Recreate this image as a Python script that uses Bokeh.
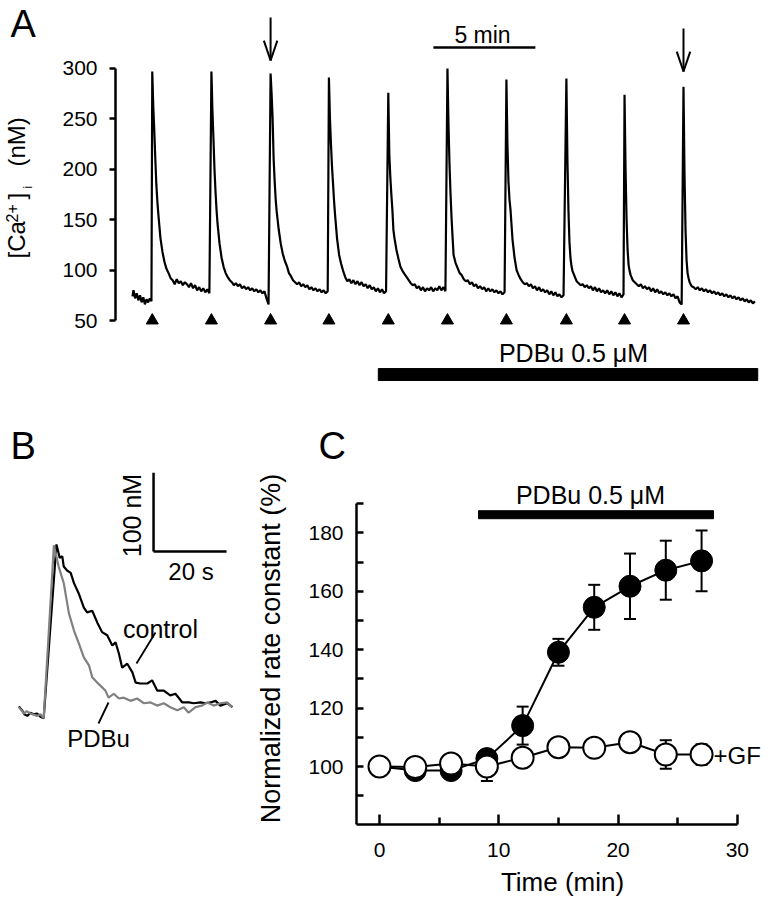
import math
from bokeh.plotting import figure
from bokeh.layouts import column, row
from bokeh.models import (Range1d, FixedTicker, Label, Whisker, TeeHead,
                          ColumnDataSource)
from bokeh.embed import file_html
from bokeh.resources import INLINE

FONT = "Liberation Sans"

# ---------------- Panel A data (time in min, [Ca2+]i in nM) ----------------
peak_t = [0.92, 3.82, 6.72, 9.58, 12.49, 15.39, 18.28, 21.22, 24.07, 26.96]
offsets = [0, 0.05, 0.1, 0.15, 0.2, 0.25, 0.3, 0.4, 0.5, 0.6, 0.7, 0.8, 0.9, 1.0,
           1.1, 1.2, 1.3, 1.4, 1.5, 1.6, 1.7, 1.8, 1.9, 2.0, 2.1, 2.2, 2.3, 2.4,
           2.5, 2.6, 2.7, 2.8]
pre_t = [-0.05, 0.0, 0.08, 0.16, 0.24, 0.32, 0.4, 0.48, 0.56, 0.64, 0.72, 0.8, 0.88]
pre_v = [74, 80, 72, 77, 70, 75, 68, 73, 66, 71, 68, 72, 69]
cyc1 = [297, 262, 238, 210, 185, 168, 155, 132, 118, 108, 101, 97, 92, 90, 86, 91,
        87, 89, 85, 88, 86, 83, 87, 82, 85, 80, 83, 79, 82, 78, 81, 77]
cyc2 = [297, 258, 230, 200, 178, 160, 146, 126, 112, 103, 97, 93, 90, 88, 85, 87,
        84, 86, 82, 84, 81, 83, 80, 82, 79, 81, 78, 80, 77, 79, 72, 66]
cyc3 = [295, 275, 250, 210, 188, 170, 158, 140, 126, 116, 109, 104, 97, 94, 90, 88,
        86, 88, 84, 86, 83, 85, 81, 83, 80, 82, 79, 81, 78, 80, 77, 79]
cyc4 = [291, 250, 225, 203, 186, 169, 155, 131, 115, 106, 99, 93, 89, 91, 87, 90,
        86, 89, 85, 88, 84, 86, 82, 85, 81, 83, 79, 82, 78, 81, 77, 79]
cyc5 = [276, 215, 192, 175, 160, 140, 132, 120, 111, 103, 99, 96, 93, 90, 87, 85,
        86, 82, 84, 80, 83, 79, 82, 80, 83, 79, 82, 80, 84, 80, 83, 79]
cyc6 = [300, 245, 205, 176, 152, 133, 115, 107, 102, 97, 95, 91, 89, 90, 86, 88,
        84, 86, 82, 84, 81, 83, 79, 82, 79, 81, 78, 80, 77, 79, 76, 78]
cyc7 = [289, 225, 188, 170, 160, 145, 130, 112, 100, 95, 91, 88, 86, 87, 84, 86,
        82, 84, 80, 83, 79, 81, 78, 80, 76, 79, 75, 78, 74, 76, 73, 75]
cyc8 = [290, 210, 160, 128, 112, 104, 99, 94, 89, 87, 85, 86, 83, 85, 82, 84,
        80, 83, 79, 82, 78, 80, 77, 80, 76, 79, 75, 78, 74, 77, 73, 76]
cyc9 = [274, 200, 150, 120, 105, 99, 95, 90, 88, 86, 84, 86, 82, 84, 81, 83,
        79, 82, 78, 81, 77, 79, 76, 78, 75, 77, 74, 76, 72, 74, 68, 66]
cyc10 = [282, 195, 140, 110, 97, 92, 88, 84, 83, 81, 83, 80, 82, 79, 81, 78,
         80, 77, 79, 76, 78, 75, 77, 74, 76, 73, 75, 72, 74, 71, 73, 70]
tail_off = [2.9, 3.0, 3.1, 3.2, 3.3, 3.4, 3.5]
tail_v = [72, 69, 71, 68, 70, 67, 69]
cycles = [cyc1, cyc2, cyc3, cyc4, cyc5, cyc6, cyc7, cyc8, cyc9, cyc10]

stim_t = peak_t
stim_level = 50
arrow_t = [6.72, 26.96]
arrow_top = [350.6, 339.7]
arrow_tip = [307.9, 297.0]
scale_start, scale_len, scale_y = 14.7, 5.0, 320.8
pdbuA_start, pdbuA_end, pdbuA_y = 12.0, 30.6, -3.6
yticksA = [50, 100, 150, 200, 250, 300]

# ---------------- Panel B data (time in s, [Ca2+]i in nM) ----------------
ctrl_t = [0.1, 1.0, 1.6, 2.4, 3.3, 4.1, 5.1, 6.0, 6.9, 10.4, 11.3, 12.0, 12.4, 13.3,
          14.3, 15.2, 16.5, 17.9, 18.8, 20.2, 21.6, 22.9, 24.3, 25.7, 26.6, 27.5,
          28.4, 29.8, 31.2, 32.1, 33.4, 35.3, 36.6, 38.0, 39.8, 41.6, 43.0, 44.9,
          46.7, 48.0, 49.9, 51.2, 52.6, 54.0, 55.3, 57.2, 58.6]
ctrl_c = [84, 79, 74, 72, 76, 74, 75, 71, 69, 289, 272, 274, 261, 256, 253, 240,
          227, 209, 203, 205, 190, 178, 174, 161, 165, 151, 133, 138, 127, 114,
          113, 113, 117, 104, 104, 98, 100, 89, 89, 88, 89, 88, 89, 91, 85, 88, 83]
pdbu_t = [0.1, 1.5, 2.2, 3.3, 5.1, 6.0, 6.9, 9.7, 11.0, 12.4, 13.8, 15.2, 16.5,
          17.9, 19.3, 20.2, 21.6, 22.5, 23.8, 24.7, 26.1, 27.5, 28.8, 30.7, 32.5,
          34.3, 36.2, 38.0, 39.8, 41.6, 43.5, 45.3, 46.6, 48.5, 50.3, 51.7, 53.5,
          55.3, 57.2, 58.5]
pdbu_c = [83, 75, 78, 75, 72, 74, 69, 288, 261, 240, 202, 180, 164, 146, 136, 121,
          114, 110, 104, 95, 100, 94, 95, 91, 94, 88, 89, 85, 88, 83, 79, 83, 76,
          83, 85, 89, 85, 88, 89, 83]
barB_t, barB_c = 37.0, 280.0
barB_dt, barB_dc = 20.0, 100.0

# ---------------- Panel C data ----------------
time_min = [0, 3, 6, 9, 12, 15, 18, 21, 24, 27]
pdbu_mean = [100, 98.6, 98.6, 102.7, 114.0, 139.1, 154.5, 161.7, 167.2, 170.4]
pdbu_sem = [0, 1.0, 1.0, 2.0, 6.5, 4.6, 7.7, 11.2, 10.1, 10.4]
gf_mean = [100, 99.8, 101.0, 100.0, 103.0, 106.6, 106.4, 108.3, 104.1, 104.1]
gf_sem = [0, 1.0, 1.0, 5.0, 1.5, 1.5, 1.5, 1.5, 4.9, 3.5]
pdbuC_start, pdbuC_end, pdbuC_y = 8.3, 28.0, 186.2
yticksC = [100, 120, 140, 160, 180]
yminorC = [90, 110, 130, 150, 170, 190]
xticksC = [0, 10, 20, 30]
xminorC = [5, 15, 25]

ROT = math.pi / 2


def base_fig(w, h, xr, yr, left, right, top, bottom, **kw):
    p = figure(width=w, height=h, x_range=Range1d(*xr), y_range=Range1d(*yr),
               output_backend="svg", toolbar_location=None,
               min_border_left=left, min_border_right=right,
               min_border_top=top, min_border_bottom=bottom, **kw)
    p.outline_line_color = None
    p.grid.visible = False
    p.background_fill_color = "white"
    p.border_fill_color = "white"
    return p


def add_px(p, x0, x1, ytop, ybot):
    # pixel-like helper ranges (page coordinates) for text placement
    p.extra_x_ranges = {"px": Range1d(x0, x1)}
    p.extra_y_ranges = {"px": Range1d(ybot, ytop)}


def lab(p, x, y, text, size, align="left", angle=0.0):
    # (x, y) is the visual centre line of the text
    p.add_layout(Label(x=x, y=y, text=text, text_font=FONT,
                       text_font_size=f"{size}px", text_align=align,
                       text_baseline="alphabetic", angle=angle,
                       text_color="black", x_range_name="px",
                       y_range_name="px"))


def strip(w, h, x0, y0, top=0, bottom=0):
    p = base_fig(w, h, (x0, x0 + w), (y0 + h - bottom, y0 + top), 0, 0, top,
                 bottom, x_axis_type=None, y_axis_type=None)
    add_px(p, x0, x0 + w, y0 + top, y0 + h - bottom)
    return p


def style_axis(ax):
    ax.axis_line_color = "black"
    ax.major_tick_line_color = "black"
    ax.minor_tick_line_color = "black"
    ax.axis_line_width = 2.5
    ax.major_tick_line_width = 2.5
    ax.minor_tick_line_width = 2.5
    ax.major_label_text_font = FONT
    ax.major_label_text_font_size = "21px"
    ax.major_label_text_color = "black"


# ======================= Row 1: panel A =======================
stripA = strip(55, 400, 0, 0, top=0, bottom=2)
lab(stripA, 10, 23, "A", 38)
lab(stripA, 15.5, 258, "[Ca", 24, angle=ROT)
lab(stripA, 11.5, 222, "2+", 16, angle=ROT)
lab(stripA, 15.5, 199, "]", 24, angle=ROT)
lab(stripA, 27, 188, "i", 12, angle=ROT)
lab(stripA, 15.5, 166, "(nM)", 24, angle=ROT)

pA = base_fig(715, 400, (-0.882, 31.127), (-27.38, 367.46), 60, 2, 0, 2,
              x_axis_type=None)
add_px(pA, 115, 768, 0, 398)
ya = pA.yaxis[0]
style_axis(ya)
ya.ticker = FixedTicker(ticks=yticksA, minor_ticks=[])
ya.bounds = (50, 300)
ya.major_tick_out = 6
ya.major_tick_in = 0
ya.minor_tick_out = 0
ya.minor_tick_in = 0
ya.major_label_standoff = 12

trace_t = list(pre_t)
trace_v = list(pre_v)
for pt, vals in zip(peak_t, cycles):
    trace_t += [pt + o for o in offsets]
    trace_v += vals
trace_t += [peak_t[-1] + o for o in tail_off]
trace_v += tail_v

pA.line(trace_t, trace_v, line_color="black", line_width=2.2)
pA.scatter(stim_t, [stim_level] * len(stim_t), marker="triangle", size=12,
           fill_color="black", line_color="black")
# arrows: shaft plus open V head (head half-width 0.33 min, length 19.8 nM)
head_w, head_l = 0.33, 19.8
pA.segment(x0=arrow_t, y0=arrow_top, x1=arrow_t, y1=arrow_tip,
           line_color="black", line_width=2)
pA.segment(x0=[t - head_w for t in arrow_t], y0=[v + head_l for v in arrow_tip],
           x1=arrow_t, y1=arrow_tip, line_color="black", line_width=2)
pA.segment(x0=[t + head_w for t in arrow_t], y0=[v + head_l for v in arrow_tip],
           x1=arrow_t, y1=arrow_tip, line_color="black", line_width=2)
pA.segment(x0=[scale_start], y0=[scale_y], x1=[scale_start + scale_len],
           y1=[scale_y], line_color="black", line_width=2.5)
pA.hbar(y=[pdbuA_y], left=[pdbuA_start], right=[pdbuA_end], height=11.9,
        fill_color="black", line_color="black")
lab(pA, 482, 34, "5 min", 23, align="center")
lab(pA, 573, 352, "PDBu 0.5 \u03bcM", 25, align="center")

# ======================= Row 2: panel letters B, C =======================
stripBC = strip(770, 70, 0, 400)
lab(stripBC, 10, 445, "B", 38)
lab(stripBC, 318, 445, "C", 38)

# ======================= Row 3: panels B and C =======================
pB = base_fig(250, 429, (-4.93, 63.56), (-65.5, 380.06), 0, 0, 2, 75,
              x_axis_type=None, y_axis_type=None)
add_px(pB, 0, 250, 472, 824)
pB.line(ctrl_t, ctrl_c, line_color="black", line_width=2.2)
pB.line(pdbu_t, pdbu_c, line_color="#808080", line_width=2.2)
pB.segment(x0=[barB_t, barB_t], y0=[barB_c, barB_c],
           x1=[barB_t, barB_t + barB_dt], y1=[barB_c + barB_dc, barB_c],
           line_color="black", line_width=2.5)
pB.segment(x0=[155, 108], y0=[632, 702], x1=[136, 98], y1=[663, 723],
           line_color="black", line_width=1.8, x_range_name="px",
           y_range_name="px")
lab(pB, 131.5, 515, "100 nM", 25, align="center", angle=ROT)
lab(pB, 190.5, 571, "20 s", 24, align="center")
lab(pB, 160, 628, "control", 25, align="center")
lab(pB, 98, 737.5, "PDBu", 24, align="center")

pC = base_fig(520, 429, (-1.928, 32.61), (80.144, 200.65), 106, 2, 2, 75)
add_px(pC, 356, 768, 472, 824)
yc = pC.yaxis[0]
xc = pC.xaxis[0]
for ax in (yc, xc):
    style_axis(ax)
    ax.major_tick_out = 0
    ax.minor_tick_out = 0
    ax.axis_label_text_font = FONT
    ax.axis_label_text_font_style = "normal"
    ax.axis_label_text_color = "black"
yc.ticker = FixedTicker(ticks=yticksC, minor_ticks=yminorC)
yc.bounds = (80.144, 190)
xc.ticker = FixedTicker(ticks=xticksC, minor_ticks=xminorC)
xc.bounds = (-1.928, 30)
yc.major_tick_in = 7
yc.minor_tick_in = 7
yc.major_label_standoff = 13
yc.axis_label = "Normalized rate constant (%)"
yc.axis_label_text_font_size = "27px"
yc.axis_label_standoff = 19
xc.major_tick_in = 10
xc.minor_tick_in = 7
xc.major_label_standoff = 18
xc.axis_label = "Time (min)"
xc.axis_label_text_font_size = "26px"
xc.axis_label_standoff = 7

src_p = ColumnDataSource(dict(x=time_min, y=pdbu_mean,
                              lo=[m - s for m, s in zip(pdbu_mean, pdbu_sem)],
                              hi=[m + s for m, s in zip(pdbu_mean, pdbu_sem)]))
src_g = ColumnDataSource(dict(x=time_min, y=gf_mean,
                              lo=[m - s for m, s in zip(gf_mean, gf_sem)],
                              hi=[m + s for m, s in zip(gf_mean, gf_sem)]))
for src in (src_p, src_g):
    pC.add_layout(Whisker(base="x", lower="lo", upper="hi", source=src,
                          dimension="height", line_width=2, line_color="black",
                          upper_head=TeeHead(size=12, line_width=2,
                                             line_color="black"),
                          lower_head=TeeHead(size=12, line_width=2,
                                             line_color="black"),
                          level="underlay"))
pC.line("x", "y", source=src_p, line_color="black", line_width=2)
pC.scatter("x", "y", source=src_p, size=22, fill_color="black",
           line_color="black")
pC.line("x", "y", source=src_g, line_color="black", line_width=2)
pC.scatter("x", "y", source=src_g, size=22, fill_color="white",
           line_color="black", line_width=2)
pC.hbar(y=[pdbuC_y], left=[pdbuC_start], right=[pdbuC_end], height=2.74,
        fill_color="black", line_color="black")
lab(pC, 590, 494, "PDBu 0.5 \u03bcM", 25, align="center")
lab(pC, 713, 755, "+GF", 24)

layout = column(row(stripA, pA), stripBC, row(pB, pC))
open("out.html", "w").write(file_html(layout, INLINE, title="Figure"))
